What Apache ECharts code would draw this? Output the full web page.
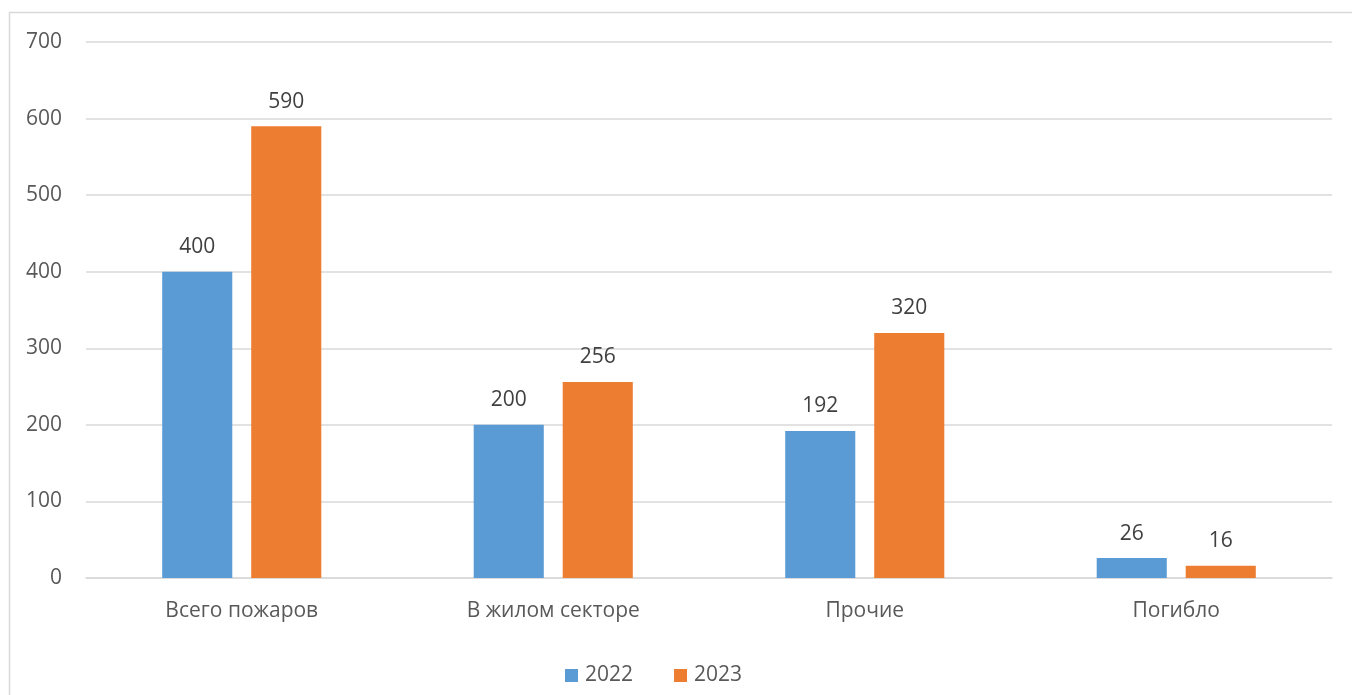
<!DOCTYPE html>
<html><head><meta charset="utf-8">
<script src="https://cdn.jsdelivr.net/npm/echarts@6/dist/echarts.min.js"></script>
<style>html,body{margin:0;padding:0;background:#fff}#c{width:1352px;height:695px}</style>
</head><body><div id="c"></div>
<script>
const categories = ['Всего пожаров', 'В жилом секторе', 'Прочие', 'Погибло'];
const values2022 = [400, 200, 192, 26];
const values2023 = [590, 256, 320, 16];
const seriesNames = ['2022', '2023'];
const yTicks = [0, 700, 100];

const font = "'Open Sans', sans-serif";
const txt = '#595959';
const chart = echarts.init(document.getElementById('c'), null, {renderer: 'canvas'});
const label = {show: true, position: 'top', distance: 14, color: '#404040', fontSize: 21, fontFamily: font};
chart.setOption({
  animation: false,
  graphic: [{type: 'rect', shape: {x: 9.5, y: 12.5, width: 1500, height: 800}, style: {fill: 'none', stroke: '#d9d9d9', lineWidth: 1.5}, silent: true}],
  grid: {left: 86, right: 20, top: 42, bottom: 117},
  legend: {bottom: 4, left: 560, itemWidth: 13, itemHeight: 13, itemGap: 41, icon: 'rect',
    textStyle: {color: txt, fontSize: 21, fontFamily: font, padding: [0, 0, 0, 2]}, data: seriesNames},
  xAxis: {type: 'category', data: categories,
    axisLine: {lineStyle: {color: '#d9d9d9', width: 1.5}}, axisTick: {show: false},
    axisLabel: {color: txt, fontSize: 21, fontFamily: font, margin: 23}},
  yAxis: {type: 'value', min: yTicks[0], max: yTicks[1], interval: yTicks[2],
    axisLine: {show: false}, axisTick: {show: false},
    splitLine: {lineStyle: {color: '#d9d9d9', width: 1.5}},
    axisLabel: {color: txt, fontSize: 21, fontFamily: font, margin: 24}},
  series: [
    {name: seriesNames[0], type: 'bar', data: values2022, barWidth: '22.5%', barGap: '27%', itemStyle: {color: '#5B9BD5'}, label: label},
    {name: seriesNames[1], type: 'bar', data: values2023, barWidth: '22.5%', barGap: '27%', itemStyle: {color: '#ED7D31'}, label: label}
  ]
});
</script></body></html>
